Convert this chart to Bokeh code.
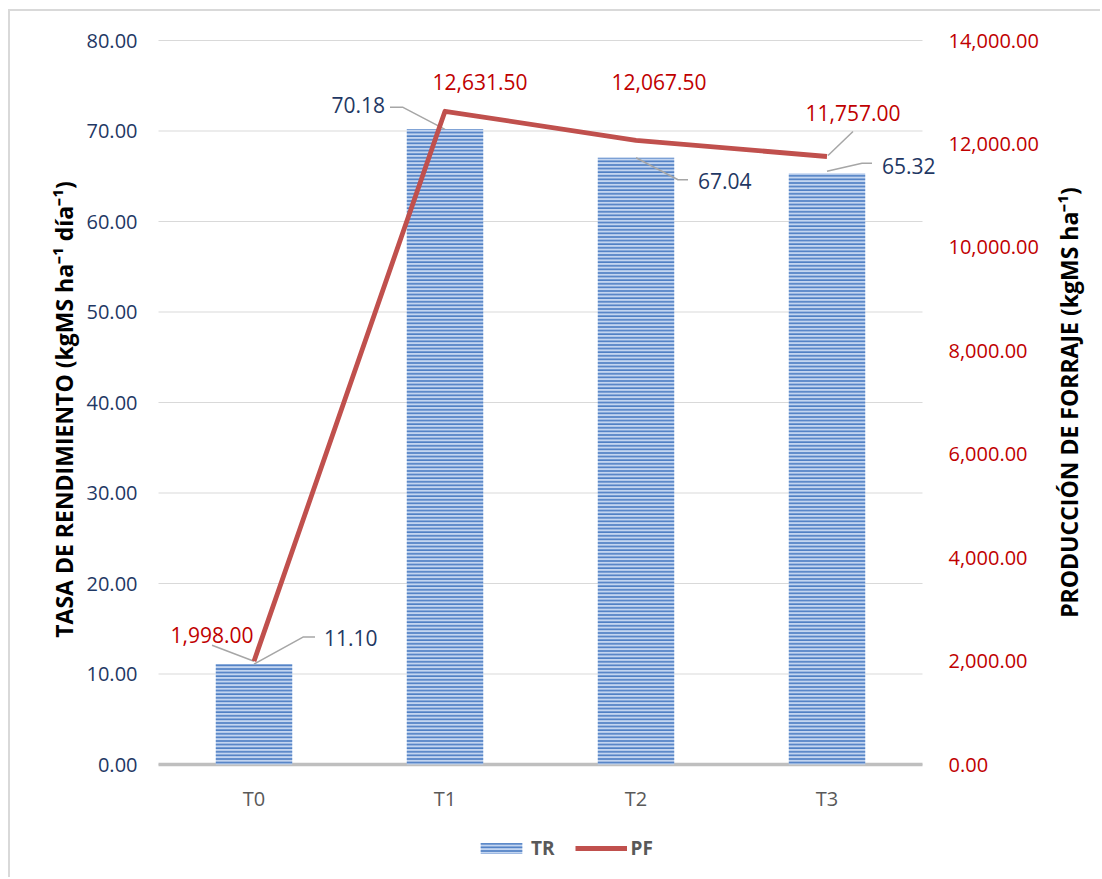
import math
from bokeh.plotting import figure
from bokeh.models import (Range1d, ColumnDataSource, LabelSet, Legend, LegendItem)
from bokeh.embed import file_html
from bokeh.resources import INLINE
from bokeh.core.properties import value

# ---------------- data ----------------
categories = ["T0", "T1", "T2", "T3"]
tr_values = [11.10, 70.18, 67.04, 65.32]             # TASA DE RENDIMIENTO
pf_values = [1998.00, 12631.50, 12067.50, 11757.00]  # PRODUCCIÓN DE FORRAJE
left_ticks = [0, 10, 20, 30, 40, 50, 60, 70, 80]
right_ticks = [0, 2000, 4000, 6000, 8000, 10000, 12000, 14000]
left_tick_labels = ["0.00", "10.00", "20.00", "30.00", "40.00", "50.00", "60.00", "70.00", "80.00"]
right_tick_labels = ["0.00", "2,000.00", "4,000.00", "6,000.00", "8,000.00",
                     "10,000.00", "12,000.00", "14,000.00"]
tr_labels = ["11.10", "70.18", "67.04", "65.32"]
pf_labels = ["1,998.00", "12,631.50", "12,067.50", "11,757.00"]
left_title = "TASA DE RENDIMIENTO (kgMS ha⁻¹ día⁻¹)"
right_title = "PRODUCCIÓN DE FORRAJE (kgMS ha⁻¹)"

# ---------------- layout / style ----------------
W, H = 1102, 879
OX, OY = 10, 11                      # canvas origin inside the outer border
CW, CH = W - OX, H - OY
PL, PR, FT, FB = 158, 922, 40, 764   # plot area (image px)
LMAX, RMAX = left_ticks[-1], right_ticks[-1]
ncat = len(categories)
CAT_PX = (PR - PL) / ncat
FH = FB - FT

def xu(px):   # image px -> x units
    return (px - PL) / CAT_PX

def yl(py):   # image px -> left-axis units
    return (FB - py) * LMAX / FH

def yr(py):   # image px -> right-axis units
    return (FB - py) * RMAX / FH

FONT = "Open Sans"
NAVY = "#1f3864"
RED = "#c00000"
LINE_RED = "#c0504d"
GRID = "#d9d9d9"
LEADER = "#a6a6a6"

# label placement (screen px: dx right, dy up)
tr_lab_style = [("left", 70, 26), ("right", -60, 24), ("left", 62, -23), ("left", 55, 7)]
pf_lab_style = [("center", -42, 26), ("center", 35, 29), ("center", 23, 58), ("center", 26, 43)]
tr_leader_style = [[(0, 0), (49, 27), (61, 27)], [(0, 0), (-42, 22), (-55, 22)],
                   [(0, 0), (42, -22), (52, -22)], [(0, 2), (35, 10), (45, 10)]]
pf_leader_style = [[(0, 0), (-42, 16)], None, None, [(1, 1), (26, 25)]]

xpos = [i + 0.5 for i in range(ncat)]

p = figure(width=CW, height=CH,
           x_range=Range1d(xu(OX), xu(W)), y_range=Range1d(yl(H), yl(OY)),
           output_backend="svg", toolbar_location=None,
           x_axis_location=None, y_axis_location=None,
           min_border=0)
p.styles = {"margin-left": "8px", "margin-top": "9px",
            "border-left": "2px solid #d9d9d9", "border-top": "2px solid #d9d9d9"}
p.extra_y_ranges = {"pf": Range1d(yr(H), yr(OY))}
p.outline_line_color = None
p.xgrid.visible = False
p.ygrid.visible = False

# gridlines + category axis baseline
p.segment(x0=[0] * len(left_ticks), x1=[ncat] * len(left_ticks),
          y0=left_ticks, y1=left_ticks, line_color=GRID, line_width=1)
p.segment(x0=[0], x1=[ncat], y0=[0], y1=[0], line_color="#bfbfbf", line_width=3.5)

# bars
bars = p.vbar(x=xpos, top=tr_values, width=0.4,
              fill_color="#c3d5f0", line_color=None,
              hatch_pattern="horizontal_line", hatch_color="#4f7fc4",
              hatch_scale=3.6, hatch_weight=1.7)

# leader lines
def leaders(vals, styles, ymax):
    xs, ys = [], []
    for x, v, st in zip(xpos, vals, styles):
        if st is None:
            continue
        xs.append([x + dx / CAT_PX for dx, dy in st])
        ys.append([v + dy * ymax / FH for dx, dy in st])
    return xs, ys

txs, tys = leaders(tr_values, tr_leader_style, LMAX)
p.multi_line(xs=txs, ys=tys, line_color=LEADER, line_width=1.5)
pxs, pys = leaders(pf_values, pf_leader_style, RMAX)
p.multi_line(xs=pxs, ys=pys, line_color=LEADER, line_width=1.5, y_range_name="pf")

# PF line
pf_line = p.line(x=xpos, y=pf_values, y_range_name="pf",
                 line_color=LINE_RED, line_width=4.8, line_join="round")

def labels(src, color, size, y_range_name="default", **kw):
    p.add_layout(LabelSet(x="x", y="y", text="text", source=ColumnDataSource(src),
                          y_range_name=y_range_name, text_color=color,
                          text_font=value(FONT), text_font_size=size, **kw))

# data labels
labels(dict(x=xpos, y=tr_values, text=tr_labels,
            align=[s[0] for s in tr_lab_style],
            xo=[s[1] for s in tr_lab_style], yo=[s[2] for s in tr_lab_style]),
       NAVY, "21px", x_offset="xo", y_offset="yo", text_align="align",
       text_baseline="middle")
labels(dict(x=xpos, y=pf_values, text=pf_labels,
            align=[s[0] for s in pf_lab_style],
            xo=[s[1] for s in pf_lab_style], yo=[s[2] for s in pf_lab_style]),
       RED, "21px", y_range_name="pf", x_offset="xo", y_offset="yo",
       text_align="align", text_baseline="middle")

# category labels
labels(dict(x=xpos, y=[0] * ncat, text=categories), "#595959", "20px",
       y_offset=-34, text_align="center", text_baseline="middle")

# value-axis tick labels
labels(dict(x=[0] * len(left_ticks), y=left_ticks, text=left_tick_labels),
       NAVY, "20px", x_offset=-21, text_align="right", text_baseline="middle")
labels(dict(x=[ncat] * len(right_ticks), y=right_ticks, text=right_tick_labels),
       RED, "20px", y_range_name="pf", x_offset=26, text_align="left",
       text_baseline="middle")

# axis titles (rotated, reading upwards)
labels(dict(x=[xu(63)], y=[yl(409)], text=[left_title]), "black", "23px",
       angle=math.pi / 2, text_align="center", text_baseline="middle",
       text_font_style="bold")
labels(dict(x=[xu(1068)], y=[yl(402)], text=[right_title]), "black", "23px",
       angle=math.pi / 2, text_align="center", text_baseline="middle",
       text_font_style="bold")

# legend
legend = Legend(items=[LegendItem(label="TR", renderers=[bars]),
                       LegendItem(label="PF", renderers=[pf_line])],
                location=(475 - OX, H - 861), orientation="horizontal",
                glyph_width=52, glyph_height=14, label_standoff=4, spacing=20,
                padding=0, margin=0, border_line_color=None,
                background_fill_alpha=0,
                label_text_font=FONT, label_text_font_style="bold",
                label_text_font_size="19px", label_text_color="#595959")
p.add_layout(legend)

open("out.html", "w").write(file_html(p, INLINE))
